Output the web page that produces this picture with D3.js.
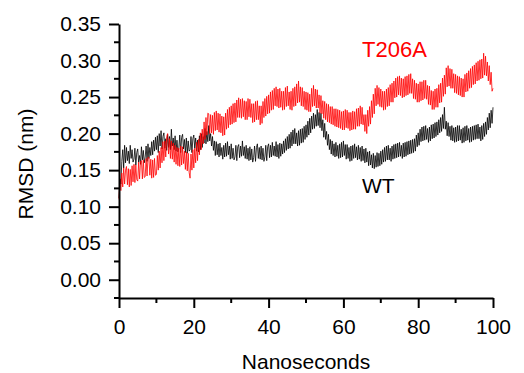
<!DOCTYPE html>
<html>
<head>
<meta charset="utf-8">
<script src="https://cdn.jsdelivr.net/npm/d3@7"></script>
<style>
    html, body { margin: 0; padding: 0; background: #fff; }
    svg { display: block; font-family: "Liberation Sans", Arial, sans-serif; }
</style>
</head>
<body>
<svg id="chart" width="524" height="373"></svg>
<script>
// RMSD every 0.25 ns (ns 0 .. 100), 2 ns per row
const stepNs = 0.25

const wtRmsd = [
    0.112, 0.138, 0.131, 0.162, 0.178, 0.153, 0.184, 0.160,
    0.181, 0.163, 0.176, 0.159, 0.184, 0.166, 0.178, 0.161,
    0.165, 0.180, 0.157, 0.174, 0.179, 0.161, 0.170, 0.158,
    0.182, 0.164, 0.177, 0.160, 0.168, 0.183, 0.162, 0.186,
    0.166, 0.181, 0.170, 0.189, 0.171, 0.191, 0.176, 0.195,
    0.178, 0.197, 0.174, 0.200, 0.183, 0.204, 0.179, 0.196,
    0.201, 0.180, 0.193, 0.177, 0.199, 0.181, 0.196, 0.178,
    0.206, 0.183, 0.194, 0.178, 0.197, 0.176, 0.191, 0.175,
    0.180, 0.198, 0.174, 0.195, 0.199, 0.179, 0.192, 0.174,
    0.194, 0.173, 0.190, 0.176, 0.178, 0.196, 0.174, 0.193,
    0.198, 0.180, 0.194, 0.176, 0.191, 0.175, 0.197, 0.178,
    0.200, 0.181, 0.196, 0.187, 0.207, 0.186, 0.203, 0.189,
    0.211, 0.190, 0.200, 0.183, 0.196, 0.177, 0.190, 0.170,
    0.189, 0.171, 0.186, 0.168, 0.187, 0.170, 0.181, 0.165,
    0.184, 0.168, 0.187, 0.169, 0.189, 0.171, 0.183, 0.165,
    0.186, 0.166, 0.180, 0.164, 0.168, 0.184, 0.163, 0.182,
    0.185, 0.167, 0.183, 0.169, 0.190, 0.170, 0.182, 0.166,
    0.184, 0.165, 0.180, 0.163, 0.182, 0.164, 0.179, 0.161,
    0.167, 0.183, 0.162, 0.181, 0.186, 0.166, 0.181, 0.165,
    0.183, 0.164, 0.180, 0.162, 0.168, 0.184, 0.163, 0.182,
    0.186, 0.167, 0.184, 0.168, 0.188, 0.170, 0.183, 0.169,
    0.189, 0.168, 0.185, 0.166, 0.187, 0.169, 0.186, 0.172,
    0.190, 0.174, 0.193, 0.177, 0.196, 0.179, 0.199, 0.180,
    0.202, 0.183, 0.205, 0.186, 0.207, 0.186, 0.201, 0.183,
    0.204, 0.184, 0.206, 0.187, 0.207, 0.188, 0.210, 0.192,
    0.212, 0.195, 0.217, 0.198, 0.221, 0.201, 0.224, 0.206,
    0.228, 0.207, 0.226, 0.210, 0.233, 0.211, 0.229, 0.208,
    0.228, 0.204, 0.219, 0.195, 0.214, 0.192, 0.203, 0.184,
    0.199, 0.178, 0.192, 0.172, 0.190, 0.170, 0.186, 0.168,
    0.188, 0.169, 0.184, 0.166, 0.186, 0.167, 0.188, 0.168,
    0.190, 0.170, 0.185, 0.165, 0.185, 0.166, 0.181, 0.162,
    0.183, 0.163, 0.184, 0.166, 0.186, 0.167, 0.182, 0.164,
    0.184, 0.165, 0.181, 0.162, 0.183, 0.163, 0.179, 0.160,
    0.180, 0.161, 0.175, 0.156, 0.176, 0.157, 0.171, 0.153,
    0.173, 0.152, 0.170, 0.154, 0.174, 0.155, 0.173, 0.156,
    0.176, 0.158, 0.178, 0.161, 0.181, 0.162, 0.183, 0.164,
    0.184, 0.164, 0.180, 0.162, 0.183, 0.165, 0.185, 0.166,
    0.186, 0.167, 0.187, 0.168, 0.188, 0.169, 0.184, 0.166,
    0.187, 0.168, 0.188, 0.169, 0.189, 0.171, 0.190, 0.172,
    0.191, 0.173, 0.192, 0.174, 0.193, 0.176, 0.198, 0.182,
    0.201, 0.184, 0.206, 0.189, 0.209, 0.190, 0.210, 0.191,
    0.211, 0.192, 0.207, 0.188, 0.209, 0.190, 0.212, 0.193,
    0.213, 0.194, 0.215, 0.196, 0.216, 0.198, 0.219, 0.201,
    0.222, 0.203, 0.226, 0.207, 0.236, 0.206, 0.217, 0.197,
    0.215, 0.196, 0.210, 0.191, 0.211, 0.190, 0.208, 0.188,
    0.209, 0.189, 0.211, 0.190, 0.211, 0.191, 0.206, 0.187,
    0.208, 0.188, 0.210, 0.190, 0.211, 0.191, 0.207, 0.188,
    0.209, 0.189, 0.210, 0.191, 0.211, 0.192, 0.212, 0.193,
    0.213, 0.193, 0.209, 0.190, 0.211, 0.192, 0.214, 0.196,
    0.216, 0.199, 0.222, 0.205, 0.228, 0.208, 0.232, 0.214,
    0.236,
]

const t206aRmsd = [
    0.110, 0.138, 0.122, 0.146, 0.127, 0.153, 0.131, 0.150,
    0.155, 0.130, 0.152, 0.127, 0.151, 0.129, 0.156, 0.134,
    0.158, 0.133, 0.157, 0.137, 0.135, 0.161, 0.138, 0.162,
    0.163, 0.138, 0.164, 0.140, 0.141, 0.166, 0.142, 0.168,
    0.167, 0.143, 0.165, 0.139, 0.164, 0.140, 0.166, 0.143,
    0.144, 0.170, 0.150, 0.176, 0.153, 0.181, 0.160, 0.189,
    0.163, 0.190, 0.168, 0.196, 0.200, 0.172, 0.193, 0.166,
    0.190, 0.165, 0.187, 0.161, 0.184, 0.158, 0.181, 0.156,
    0.180, 0.155, 0.183, 0.157, 0.182, 0.159, 0.176, 0.151,
    0.175, 0.149, 0.173, 0.147, 0.139, 0.172, 0.150, 0.178,
    0.153, 0.180, 0.160, 0.188, 0.163, 0.192, 0.171, 0.201,
    0.178, 0.206, 0.186, 0.216, 0.192, 0.222, 0.198, 0.228,
    0.227, 0.200, 0.226, 0.201, 0.225, 0.199, 0.229, 0.204,
    0.231, 0.205, 0.228, 0.202, 0.227, 0.201, 0.224, 0.197,
    0.223, 0.198, 0.228, 0.206, 0.233, 0.208, 0.236, 0.212,
    0.238, 0.213, 0.241, 0.215, 0.242, 0.216, 0.246, 0.222,
    0.249, 0.222, 0.247, 0.221, 0.248, 0.223, 0.245, 0.219,
    0.244, 0.219, 0.248, 0.223, 0.247, 0.222, 0.241, 0.215,
    0.241, 0.216, 0.244, 0.219, 0.245, 0.219, 0.238, 0.212,
    0.238, 0.214, 0.244, 0.222, 0.248, 0.224, 0.251, 0.227,
    0.253, 0.228, 0.257, 0.232, 0.259, 0.233, 0.262, 0.238,
    0.264, 0.237, 0.261, 0.235, 0.262, 0.236, 0.258, 0.232,
    0.258, 0.233, 0.263, 0.237, 0.265, 0.238, 0.257, 0.233,
    0.258, 0.232, 0.262, 0.237, 0.264, 0.238, 0.268, 0.242,
    0.272, 0.243, 0.264, 0.238, 0.263, 0.237, 0.258, 0.233,
    0.257, 0.232, 0.256, 0.230, 0.254, 0.230, 0.262, 0.237,
    0.266, 0.238, 0.261, 0.235, 0.260, 0.235, 0.253, 0.228,
    0.252, 0.227, 0.245, 0.221, 0.244, 0.219, 0.241, 0.216,
    0.240, 0.215, 0.237, 0.213, 0.237, 0.212, 0.234, 0.210,
    0.234, 0.209, 0.233, 0.208, 0.232, 0.207, 0.230, 0.205,
    0.231, 0.205, 0.233, 0.208, 0.232, 0.207, 0.229, 0.204,
    0.229, 0.205, 0.231, 0.206, 0.230, 0.206, 0.234, 0.210,
    0.235, 0.210, 0.238, 0.213, 0.236, 0.212, 0.226, 0.203,
    0.226, 0.200, 0.232, 0.210, 0.237, 0.213, 0.245, 0.222,
    0.254, 0.227, 0.262, 0.238, 0.266, 0.240, 0.263, 0.237,
    0.261, 0.236, 0.258, 0.232, 0.258, 0.233, 0.261, 0.237,
    0.263, 0.238, 0.267, 0.243, 0.269, 0.243, 0.272, 0.249,
    0.276, 0.250, 0.278, 0.253, 0.279, 0.252, 0.276, 0.249,
    0.275, 0.250, 0.278, 0.252, 0.279, 0.253, 0.281, 0.255,
    0.282, 0.255, 0.275, 0.248, 0.273, 0.247, 0.269, 0.243,
    0.268, 0.243, 0.271, 0.245, 0.271, 0.246, 0.273, 0.248,
    0.273, 0.247, 0.266, 0.240, 0.265, 0.239, 0.259, 0.233,
    0.258, 0.233, 0.261, 0.236, 0.262, 0.236, 0.267, 0.242,
    0.269, 0.243, 0.276, 0.251, 0.280, 0.254, 0.290, 0.264,
    0.293, 0.265, 0.289, 0.262, 0.288, 0.262, 0.282, 0.256,
    0.281, 0.255, 0.279, 0.253, 0.278, 0.252, 0.276, 0.250,
    0.275, 0.250, 0.281, 0.257, 0.283, 0.258, 0.286, 0.262,
    0.289, 0.263, 0.292, 0.267, 0.294, 0.268, 0.297, 0.272,
    0.299, 0.273, 0.301, 0.275, 0.302, 0.276, 0.310, 0.280,
    0.306, 0.279, 0.298, 0.272, 0.293, 0.267, 0.284, 0.258,
    0.262,
]

const seriesNames = ["WT", "T206A"]
const seriesColours = ["#000000", "#ff0000"]

const xTicks = [0, 20, 40, 60, 80, 100]
const xMinorTicks = [10, 30, 50, 70, 90]
const yTicks = [0.0, 0.05, 0.1, 0.15, 0.2, 0.25, 0.3, 0.35]
const yMinorTicks = [-0.025, 0.025, 0.075, 0.125, 0.175, 0.225, 0.275, 0.325]

const svg = d3.select("#chart")

const x = d3.scaleLinear().domain([0, 100]).range([119, 493])
const y = d3.scaleLinear().domain([-0.025, 0.35]).range([298, 24])

const series = [wtRmsd, t206aRmsd].map((arr, i) => ({
    name: seriesNames[i],
    colour: seriesColours[i],
    values: arr.map((v, j) => ({ t: j * stepNs, value: v })),
}))

svg.append("g")
    .selectAll("path")
    .data(series)
    .join("path")
    .attr("fill", "none")
    .attr("stroke", (d) => d.colour)
    .attr("stroke-width", 0.8)
    .attr("stroke-linejoin", "round")
    .attr(
        "d",
        (d) =>
            d3
                .line()
                .x((p) => x(p.t))
                .y((p) => y(p.value))(d.values)
    )

// axes
const font = 21

const yAxis = svg
    .append("g")
    .attr("transform", `translate(${x(0)},0)`)
    .call(
        d3
            .axisLeft(y)
            .tickValues(yTicks)
            .tickFormat(d3.format(".2f"))
            .tickSize(10)
            .tickSizeOuter(0)
            .tickPadding(8)
    )
yAxis.selectAll("text").attr("font-size", font).attr("fill", "#000")
yAxis.selectAll("line, path").attr("stroke", "#000").attr("stroke-width", 2)
yAxis.attr("font-family", null)

svg.append("g")
    .selectAll("line")
    .data(yMinorTicks)
    .join("line")
    .attr("x1", x(0) - 5)
    .attr("x2", x(0))
    .attr("y1", (d) => y(d))
    .attr("y2", (d) => y(d))
    .attr("stroke", "#000")
    .attr("stroke-width", 2)

const xAxis = svg
    .append("g")
    .attr("transform", `translate(0,${y(-0.025)})`)
    .call(
        d3
            .axisBottom(x)
            .tickValues(xTicks)
            .tickSize(10)
            .tickSizeOuter(0)
            .tickPadding(11)
    )
xAxis.selectAll("text").attr("font-size", font).attr("fill", "#000")
xAxis.selectAll("line, path").attr("stroke", "#000").attr("stroke-width", 2)
xAxis.attr("font-family", null)

svg.append("g")
    .selectAll("line")
    .data(xMinorTicks)
    .join("line")
    .attr("x1", (d) => x(d))
    .attr("x2", (d) => x(d))
    .attr("y1", y(-0.025))
    .attr("y2", y(-0.025) + 5)
    .attr("stroke", "#000")
    .attr("stroke-width", 2)

// titles
svg.append("text")
    .attr("x", 306)
    .attr("y", 369)
    .attr("text-anchor", "middle")
    .attr("font-size", font)
    .text("Nanoseconds")

svg.append("text")
    .attr("transform", "translate(33,164) rotate(-90)")
    .attr("text-anchor", "middle")
    .attr("font-size", font)
    .text("RMSD (nm)")

// series labels
svg.append("text")
    .attr("x", 362)
    .attr("y", 57)
    .attr("font-size", 22)
    .attr("fill", seriesColours[1])
    .text(seriesNames[1])

svg.append("text")
    .attr("x", 362)
    .attr("y", 193)
    .attr("font-size", 21)
    .attr("fill", seriesColours[0])
    .text(seriesNames[0])
</script>
</body>
</html>
